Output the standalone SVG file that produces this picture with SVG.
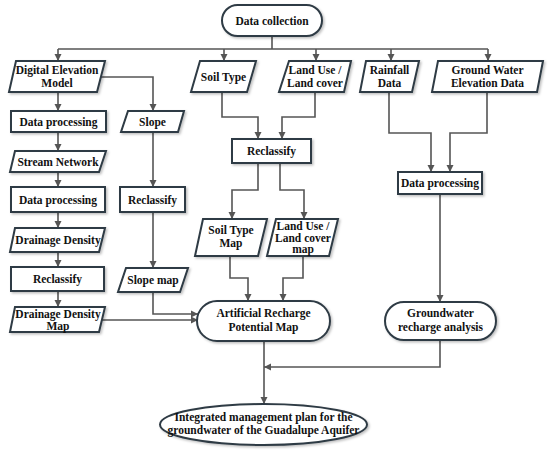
<svg xmlns="http://www.w3.org/2000/svg" width="550" height="456" viewBox="0 0 550 456">
<defs>
<marker id="ah" markerWidth="8" markerHeight="8" refX="7" refY="4" orient="auto" markerUnits="userSpaceOnUse">
<path d="M0,0.5 L7,4 L0,7.5 Z" fill="#555"/>
</marker>
<filter id="sh" x="-10%" y="-10%" width="130%" height="140%">
<feDropShadow dx="1.5" dy="1.5" stdDeviation="1" flood-color="#000" flood-opacity="0.25"/>
</filter>
</defs>
<style>
.n{fill:#fff;stroke:#2f3b44;stroke-width:2;filter:url(#sh)}
.t{font-family:"Liberation Serif","Times New Roman",serif;font-weight:bold;font-size:11.5px;fill:#111;text-anchor:middle}
.c{fill:none;stroke:#555;stroke-width:1.6}
.a{marker-end:url(#ah)}
</style>
<rect width="550" height="456" fill="#fff"/>
<g id="connectors">
<path class="c" d="M272,36 V49"/>
<path class="c" d="M58,49 H488"/>
<path class="c a" d="M58,49 V61"/>
<path class="c a" d="M224,49 V61"/>
<path class="c a" d="M316,49 V61"/>
<path class="c a" d="M391,49 V61"/>
<path class="c a" d="M488,49 V61"/>
<path class="c a" d="M58,92 V111"/>
<path class="c a" d="M101,77 H153 V111"/>
<path class="c a" d="M58,132 V151"/>
<path class="c a" d="M58,172 V187"/>
<path class="c a" d="M58,212 V228"/>
<path class="c a" d="M58,252 V267"/>
<path class="c a" d="M58,291 V307"/>
<path class="c a" d="M153,132 V187"/>
<path class="c a" d="M153,212 V268"/>
<path class="c a" d="M153,292 V314 H198"/>
<path class="c a" d="M101,320 H198"/>
<path class="c a" d="M222,92 V117 H258 V139"/>
<path class="c a" d="M315,92 V117 H282 V139"/>
<path class="c a" d="M258,163 V190 H232 V219"/>
<path class="c a" d="M280,163 V190 H304 V219"/>
<path class="c a" d="M230,256 V278 H248 V301"/>
<path class="c a" d="M303,256 V278 H283 V301"/>
<path class="c a" d="M389,92 V133 H431 V172"/>
<path class="c a" d="M487,92 V133 H450 V172"/>
<path class="c a" d="M440,194 V302"/>
<path class="c a" d="M440,340 V367 H264"/>
<path class="c a" d="M264,341 V404"/>
</g>
<g id="data-collection">
<rect class="n" x="222" y="5" width="100" height="31" rx="15.5"/>
<text class="t" x="272" y="24.5">Data collection</text>
</g>
<g id="dem">
<polygon class="n" points="16,61 105,61 97,92 9,92"/>
<text class="t" x="57" y="74">Digital Elevation</text>
<text class="t" x="57" y="87">Model</text>
</g>
<g id="soil-type">
<polygon class="n" points="200,61 256,61 247,92 191,92"/>
<text class="t" x="223.5" y="80.5">Soil Type</text>
</g>
<g id="land-use">
<polygon class="n" points="289,61 351,61 344,92 279,92"/>
<text class="t" x="315" y="74">Land Use /</text>
<text class="t" x="315" y="87">Land cover</text>
</g>
<g id="rainfall">
<polygon class="n" points="366,61 419,61 412,92 360,92"/>
<text class="t" x="389.5" y="74">Rainfall</text>
<text class="t" x="389.5" y="87">Data</text>
</g>
<g id="groundwater-data">
<polygon class="n" points="438,61 543,61 537,92 432,92"/>
<text class="t" x="487.5" y="74">Ground Water</text>
<text class="t" x="487.5" y="87">Elevation Data</text>
</g>
<g id="data-processing-1">
<rect class="n" x="11" y="111" width="95" height="21"/>
<text class="t" x="58.5" y="125.5">Data processing</text>
</g>
<g id="slope">
<polygon class="n" points="128,111 184,111 178,132 121,132"/>
<text class="t" x="152.5" y="125.5">Slope</text>
</g>
<g id="stream-network">
<polygon class="n" points="15,151 106,151 99,172 10,172"/>
<text class="t" x="58" y="165.5">Stream Network</text>
</g>
<g id="data-processing-2">
<rect class="n" x="11" y="187" width="94" height="25"/>
<text class="t" x="58" y="203.5">Data processing</text>
</g>
<g id="reclassify-slope">
<rect class="n" x="120" y="187" width="65" height="25"/>
<text class="t" x="152.5" y="203.5">Reclassify</text>
</g>
<g id="drainage-density">
<polygon class="n" points="15,228 105,228 99,252 10,252"/>
<text class="t" x="58" y="244">Drainage Density</text>
</g>
<g id="reclassify-dd">
<rect class="n" x="11" y="267" width="93" height="24"/>
<text class="t" x="57.5" y="283">Reclassify</text>
</g>
<g id="slope-map">
<polygon class="n" points="126,268 188,268 180,292 118,292"/>
<text class="t" x="153" y="284">Slope map</text>
</g>
<g id="drainage-density-map">
<polygon class="n" points="15,307 105,307 99,332 10,332"/>
<text class="t" x="58" y="318">Drainage Density</text>
<text class="t" x="58" y="330">Map</text>
</g>
<g id="reclassify-mid">
<rect class="n" x="232" y="139" width="79" height="24"/>
<text class="t" x="271.5" y="155">Reclassify</text>
</g>
<g id="soil-type-map">
<polygon class="n" points="203,219 267,219 258,256 195,256"/>
<text class="t" x="231" y="234">Soil Type</text>
<text class="t" x="231" y="247">Map</text>
</g>
<g id="land-use-map">
<polygon class="n" points="276,219 338,219 329,256 267,256"/>
<text class="t" x="303" y="229.5">Land Use /</text>
<text class="t" x="303" y="241.5">Land cover</text>
<text class="t" x="303" y="253">map</text>
</g>
<g id="data-processing-3">
<rect class="n" x="398" y="172" width="84" height="22"/>
<text class="t" x="440" y="187">Data processing</text>
</g>
<g id="artificial-recharge">
<rect class="n" x="197" y="301" width="133" height="40" rx="20"/>
<text class="t" x="263.5" y="317">Artificial Recharge</text>
<text class="t" x="263.5" y="331">Potential Map</text>
</g>
<g id="groundwater-recharge">
<rect class="n" x="385" y="302" width="111" height="38" rx="19"/>
<text class="t" x="440.5" y="317">Groundwater</text>
<text class="t" x="440.5" y="331">recharge analysis</text>
</g>
<g id="integrated-plan">
<ellipse class="n" cx="263.5" cy="424.5" rx="103.5" ry="20.5"/>
<text class="t" x="263.5" y="421">Integrated management plan for the</text>
<text class="t" x="263.5" y="434">groundwater of the Guadalupe Aquifer</text>
</g>
</svg>
